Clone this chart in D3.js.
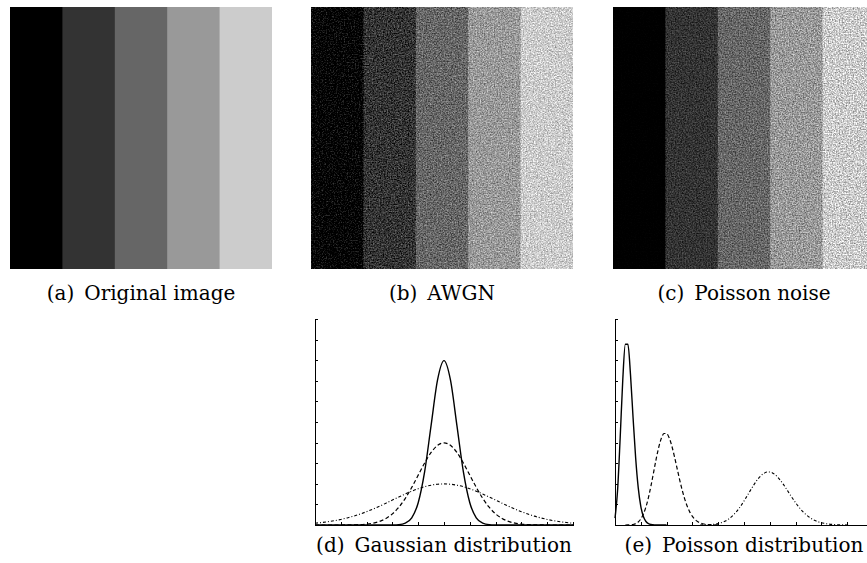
<!DOCTYPE html>
<html>
<head>
<meta charset="utf-8">
<script src="https://cdn.jsdelivr.net/npm/d3@7/dist/d3.min.js"></script>
<style>
  html, body { margin: 0; padding: 0; background: #fff; overflow: hidden; }
  svg { display: block; }
  .cap { font-family: "DejaVu Serif", "Liberation Serif", serif; font-size: 20px; fill: #000; }
  .axis path, .axis line { stroke: #000; stroke-width: 1; shape-rendering: crispEdges; }
</style>
</head>
<body>
<svg id="fig" width="867" height="563"></svg>
<script>
// Grey level of each vertical band of the test image (0-255)
const bandLevels = [0, 51, 102, 153, 204];

const imageCaptions = ["(a)\u2002Original image", "(b)\u2002AWGN", "(c)\u2002Poisson noise"];
const plotCaptions = ["(d)\u2002Gaussian distribution", "(e)\u2002Poisson distribution"];

// Gaussian densities, zero mean, sigma 5 / 10 / 20, sampled on gaussX
const gaussX = [-50, -47.5, -45, -42.5, -40, -37.5, -35, -32.5, -30, -27.5, -25, -22.5, -20, -17.5, -15, -12.5, -10, -7.5, -5, -2.5,
                0, 2.5, 5, 7.5, 10, 12.5, 15, 17.5, 20, 22.5, 25, 27.5, 30, 32.5, 35, 37.5, 40, 42.5, 45, 47.5, 50];
const gaussSigma5 = [0, 0, 0, 0, 0, 0, 0, 0, 0, 0, 0, 0, 0.00003, 0.00017, 0.00089, 0.00350, 0.01080, 0.02590, 0.04839, 0.07041,
                     0.07979, 0.07041, 0.04839, 0.02590, 0.01080, 0.00350, 0.00089, 0.00017, 0.00003, 0, 0, 0, 0, 0, 0, 0, 0, 0, 0, 0, 0];
const gaussSigma10 = [0, 0, 0, 0, 0.00001, 0.00004, 0.00009, 0.00020, 0.00044, 0.00091, 0.00175, 0.00317, 0.00540, 0.00863, 0.01295, 0.01826, 0.02420, 0.03011, 0.03521, 0.03867,
                      0.03989, 0.03867, 0.03521, 0.03011, 0.02420, 0.01826, 0.01295, 0.00863, 0.00540, 0.00317, 0.00175, 0.00091, 0.00044, 0.00020, 0.00009, 0.00004, 0.00001, 0, 0, 0, 0];
const gaussSigma20 = [0.00088, 0.00119, 0.00159, 0.00209, 0.00270, 0.00344, 0.00431, 0.00533, 0.00648, 0.00775, 0.00913, 0.01059, 0.01210, 0.01360, 0.01506, 0.01641, 0.01760, 0.01859, 0.01933, 0.01979,
                      0.01995, 0.01979, 0.01933, 0.01859, 0.01760, 0.01641, 0.01506, 0.01360, 0.01210, 0.01059, 0.00913, 0.00775, 0.00648, 0.00533, 0.00431, 0.00344, 0.00270, 0.00209, 0.00159, 0.00119, 0.00088];

// Poisson probabilities P(k) for lambda 5 / 20 / 60, first k given by *Start
const poisson5Start = 0;
const poisson5 = [0.00674, 0.03369, 0.08422, 0.14037, 0.17547, 0.17547, 0.14622, 0.10444, 0.06528, 0.03627, 0.01813,
                  0.00824, 0.00343, 0.00132, 0.00047, 0.00016, 0.00005, 0, 0, 0, 0];
const poisson20Start = 4;
const poisson20 = [0, 0.00005, 0.00018, 0.00052, 0.00131, 0.00291, 0.00582, 0.01058, 0.01763, 0.02712, 0.03874, 0.05165, 0.06457,
                   0.07596, 0.08440, 0.08884, 0.08884, 0.08461, 0.07692, 0.06689, 0.05574, 0.04459, 0.03430, 0.02541, 0.01815,
                   0.01252, 0.00834, 0.00538, 0.00336, 0.00204, 0.00120, 0.00069, 0.00038, 0.00021, 0.00011, 0.00005, 0.00003, 0];
const poisson60Start = 33;
const poisson60 = [0, 0.00009, 0.00015, 0.00024, 0.00039, 0.00062, 0.00096, 0.00144, 0.00210, 0.00300, 0.00419, 0.00571, 0.00761,
                   0.00993, 0.01267, 0.01584, 0.01939, 0.02327, 0.02738, 0.03159, 0.03576, 0.03973, 0.04335, 0.04644, 0.04889,
                   0.05057, 0.05143, 0.05143, 0.05059, 0.04896, 0.04663, 0.04371, 0.04035, 0.03668, 0.03285, 0.02898, 0.02520,
                   0.02160, 0.01825, 0.01521, 0.01250, 0.01014, 0.00811, 0.00640, 0.00499, 0.00384, 0.00291, 0.00219, 0.00162,
                   0.00119, 0.00086, 0.00061, 0.00043, 0.00030, 0.00021, 0.00014, 0.00010, 0.00006, 0];

// Axis ticks
const gaussXTicks = [-50, -40, -30, -20, -10, 0, 10, 20, 30, 40, 50];
const gaussYTicks = [0, 0.01, 0.02, 0.03, 0.04, 0.05, 0.06, 0.07, 0.08, 0.09, 0.1];
const poissonXTicks = [0, 10, 20, 30, 40, 50, 60, 70, 80, 90, 100];
const poissonYTicks = [0, 0.02, 0.04, 0.06, 0.08, 0.1, 0.12, 0.14, 0.16, 0.18, 0.2];

const svg = d3.select("#fig");
const defs = svg.append("defs");

// ---- grain filters -------------------------------------------------------
function newFilter(id) {
  return defs.append("filter").attr("id", id)
    .attr("x", 0).attr("y", 0).attr("width", 1).attr("height", 1)
    .attr("color-interpolation-filters", "sRGB");
}
// grey grain image centred on 0.5, stored as "n"
function addGrain(f, seed) {
  f.append("feTurbulence").attr("type", "fractalNoise")
    .attr("baseFrequency", 0.72).attr("numOctaves", 3).attr("seed", seed).attr("result", "t");
  f.append("feColorMatrix").attr("in", "t").attr("type", "matrix")
    .attr("values", "1 0 0 0 0  1 0 0 0 0  1 0 0 0 0  0 0 0 0 1").attr("result", "n");
}

// additive grain of constant strength
const awgn = newFilter("awgn");
addGrain(awgn, 11);
const awgnGain = 0.68;
awgn.append("feComposite").attr("in", "SourceGraphic").attr("in2", "n")
  .attr("operator", "arithmetic")
  .attr("k1", 0).attr("k2", 1).attr("k3", awgnGain).attr("k4", -awgnGain / 2).attr("result", "g");
awgn.append("feGaussianBlur").attr("in", "g").attr("stdDeviation", 0.25);

// grain whose strength follows the square root of the level
const pois = newFilter("poisson");
addGrain(pois, 23);
const amp = pois.append("feComponentTransfer").attr("in", "SourceGraphic").attr("result", "amp");
["feFuncR", "feFuncG", "feFuncB"].forEach(fn =>
  amp.append(fn).attr("type", "gamma").attr("amplitude", 0.92).attr("exponent", 0.5).attr("offset", 0.06));
pois.append("feComposite").attr("in", "amp").attr("in2", "n")
  .attr("operator", "arithmetic")
  .attr("k1", 1).attr("k2", -0.5).attr("k3", 0).attr("k4", 0.5).attr("result", "m");
const poisGain = 0.95;
pois.append("feComposite").attr("in", "SourceGraphic").attr("in2", "m")
  .attr("operator", "arithmetic")
  .attr("k1", 0).attr("k2", 1).attr("k3", poisGain).attr("k4", -poisGain / 2).attr("result", "g");
pois.append("feGaussianBlur").attr("in", "g").attr("stdDeviation", 0.25);

// ---- test images ---------------------------------------------------------
const imgSize = 262;
const imgTop = 7;
const imgLefts = [10, 311, 613];
const imgFilters = [null, "url(#awgn)", "url(#poisson)"];
const bx = d3.scaleBand().domain(d3.range(bandLevels.length)).range([0, imgSize]);
const grey = v => d3.rgb(v, v, v).formatHex();

imgLefts.forEach((left, p) => {
  const g = svg.append("g").attr("transform", `translate(${left},${imgTop})`);
  const inner = g.append("g").attr("filter", imgFilters[p]);
  inner.selectAll("rect").data(bandLevels).join("rect")
    .attr("x", (d, i) => bx(i))
    .attr("y", 0)
    .attr("width", (d, i) => bx.bandwidth() + (i < bandLevels.length - 1 ? 0.8 : 0))
    .attr("height", imgSize)
    .attr("fill", d => grey(d));
  svg.append("text").attr("class", "cap")
    .attr("x", left + imgSize / 2).attr("y", 300)
    .attr("text-anchor", "middle")
    .text(imageCaptions[p]);
});

// ---- distribution plots --------------------------------------------------
const plotW = 258, plotH = 206, plotTop = 319;

function plot(left, xDomain, yDomain, xTicks, yTicks, series, caption) {
  const x = d3.scaleLinear().domain(xDomain).range([0, plotW]);
  const y = d3.scaleLinear().domain(yDomain).range([plotH, 0]);
  const g = svg.append("g").attr("transform", `translate(${left},${plotTop})`);

  const line = d3.line().x(d => x(d[0])).y(d => y(d[1]));
  series.forEach(s => {
    g.append("path")
      .attr("d", line.curve(s.curve)(s.points))
      .attr("fill", "none")
      .attr("stroke", "#000")
      .attr("stroke-width", s.width)
      .attr("stroke-dasharray", s.dash)
      .attr("stroke-linejoin", "round");
  });

  g.append("g").attr("class", "axis")
    .attr("transform", `translate(0,${plotH})`)
    .call(d3.axisBottom(x).tickValues(xTicks).tickSizeInner(-3).tickSizeOuter(0).tickFormat(""));
  g.append("g").attr("class", "axis")
    .call(d3.axisLeft(y).tickValues(yTicks).tickSizeInner(-3).tickSizeOuter(0).tickFormat(""));

  svg.append("text").attr("class", "cap")
    .attr("x", left + plotW / 2).attr("y", 552)
    .attr("text-anchor", "middle")
    .text(caption);
}

const zipX = (xs, ys) => ys.map((v, i) => [xs[i], v]);
const fromK = (start, ps) => ps.map((v, i) => [start + i, v]);

plot(315, [-50, 50], [0, 0.1], gaussXTicks, gaussYTicks, [
  { points: zipX(gaussX, gaussSigma20), dash: "3,2,1,2", width: 1.1, curve: d3.curveMonotoneX },
  { points: zipX(gaussX, gaussSigma10), dash: "4,2.5", width: 1.2, curve: d3.curveMonotoneX },
  { points: zipX(gaussX, gaussSigma5), dash: null, width: 1.4, curve: d3.curveMonotoneX }
], plotCaptions[0]);

plot(615, [0, 100], [0, 0.2], poissonXTicks, poissonYTicks, [
  { points: fromK(poisson60Start, poisson60), dash: "3,2,1,2", width: 1.1, curve: d3.curveMonotoneX },
  { points: fromK(poisson20Start, poisson20), dash: "4,2.5", width: 1.2, curve: d3.curveMonotoneX },
  { points: fromK(poisson5Start, poisson5), dash: null, width: 1.4, curve: d3.curveMonotoneX }
], plotCaptions[1]);
</script>
</body>
</html>
